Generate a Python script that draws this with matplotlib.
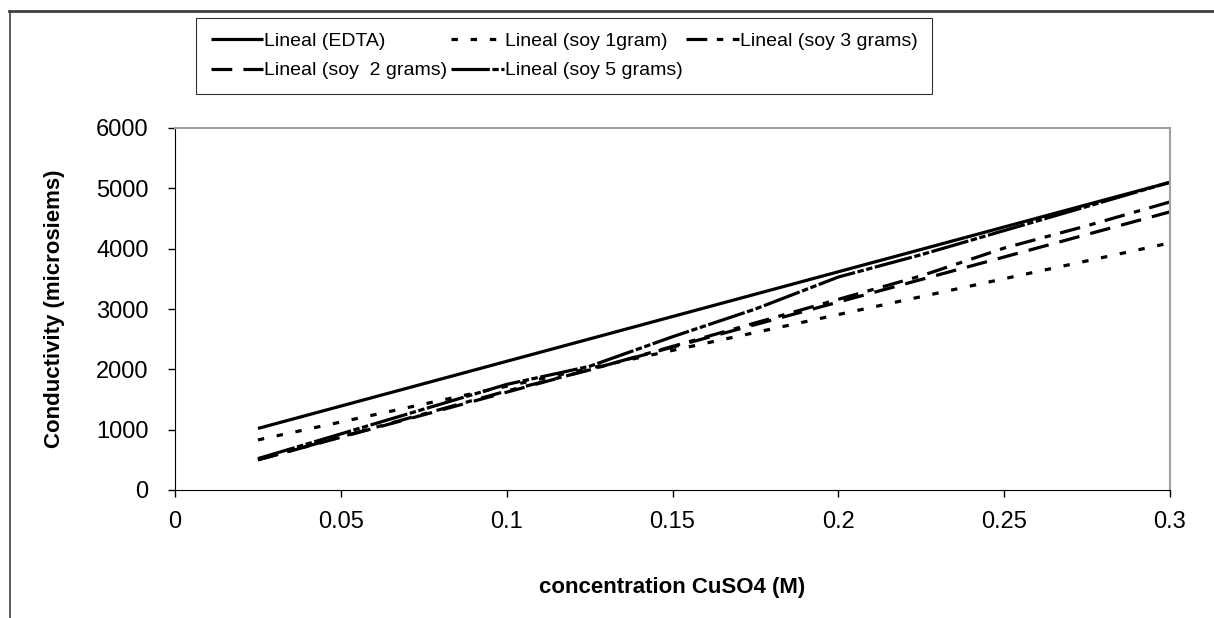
import matplotlib.pyplot as plt
from matplotlib.lines import Line2D

plt.rcParams.update({'font.family': ['Liberation Sans', 'DejaVu Sans']})

# concentration CuSO4 (M)
conc = [0.025, 0.05, 0.075, 0.1, 0.125, 0.15, 0.175, 0.2, 0.225, 0.25, 0.275, 0.3]

# conductivity (microsiems)
edta  = [1020, 1391, 1762, 2133, 2504, 2875, 3246, 3617, 3988, 4359, 4730, 5100]
soy1  = [830, 1127, 1424, 1720, 2017, 2314, 2611, 2908, 3205, 3502, 3798, 4095]
soy2  = [500, 874, 1247, 1621, 1995, 2368, 2742, 3115, 3489, 3862, 4236, 4610]
soy3  = [500, 880, 1260, 1640, 1990, 2380, 2770, 3160, 3550, 4010, 4380, 4775]
soy5  = [520, 930, 1340, 1750, 2050, 2540, 3000, 3530, 3900, 4300, 4700, 5100]

labels = ['Lineal (EDTA)', 'Lineal (soy 1gram)', 'Lineal (soy  2 grams)',
          'Lineal (soy 3 grams)', 'Lineal (soy 5 grams)']

fig = plt.figure(figsize=(12.14, 6.18), dpi=100)
ax = fig.add_axes([175/1214, 1 - 490/618, 995/1214, 362/618])

lw = 2.3
l_edta, = ax.plot(conc, edta, color='black', lw=lw, solid_capstyle='butt')
l_soy1, = ax.plot(conc, soy1, color='black', lw=lw, dashes=(2, 4))
l_soy2, = ax.plot(conc, soy2, color='black', lw=lw, dashes=(6.5, 3.5))
l_soy3, = ax.plot(conc, soy3, color='black', lw=lw, dashes=(6.5, 3, 2, 3))
l_soy5, = ax.plot(conc, soy5, color='black', lw=lw, dashes=(12, 0.8, 2, 0.8, 2, 0.8))

ax.set_xlim(0, 0.3)
ax.set_ylim(0, 6000)
ax.set_xticks([0, 0.05, 0.1, 0.15, 0.2, 0.25, 0.3])
ax.set_xticklabels(['0', '0.05', '0.1', '0.15', '0.2', '0.25', '0.3'])
ax.set_yticks(range(0, 6001, 1000))
ax.tick_params(axis='both', labelsize=17, length=5, width=1, color='black')
ax.tick_params(axis='x', pad=10)
ax.tick_params(axis='y', pad=14)
ax.spines['top'].set_color('#a0a0a0')
ax.spines['right'].set_color('#a0a0a0')
ax.spines['top'].set_linewidth(1.5)
ax.spines['right'].set_linewidth(1.5)
ax.set_xlabel('concentration CuSO4 (M)', fontsize=16, fontweight='bold', labelpad=32)
ax.set_ylabel('Conductivity (microsiems)', fontsize=16, fontweight='bold', labelpad=22)

# legend: columns fill first, so order gives rows EDTA/soy1/soy3 and soy2/soy5
handles = [l_edta, l_soy2, l_soy1, l_soy5, l_soy3]
leg_labels = [labels[0], labels[2], labels[1], labels[4], labels[3]]
leg = fig.legend(handles, leg_labels, loc='upper left',
                 bbox_to_anchor=(196/1214, 1 - 18/618), ncol=3, fontsize=14,
                 frameon=True, fancybox=False, edgecolor='black',
                 handlelength=2.7, handletextpad=0.05, columnspacing=0.2,
                 labelspacing=0.6, borderpad=0.75, borderaxespad=0)
leg.get_frame().set_linewidth(0.8)

# outer chart frame (top and left edges visible)
fig.add_artist(Line2D([9/1214, 1], [1 - 11/618, 1 - 11/618], transform=fig.transFigure,
                      color='#404040', lw=2))
fig.add_artist(Line2D([10/1214, 10/1214], [0, 1 - 11/618], transform=fig.transFigure,
                      color='#404040', lw=1.2))

fig.savefig('out.png', dpi=100, facecolor='white')
